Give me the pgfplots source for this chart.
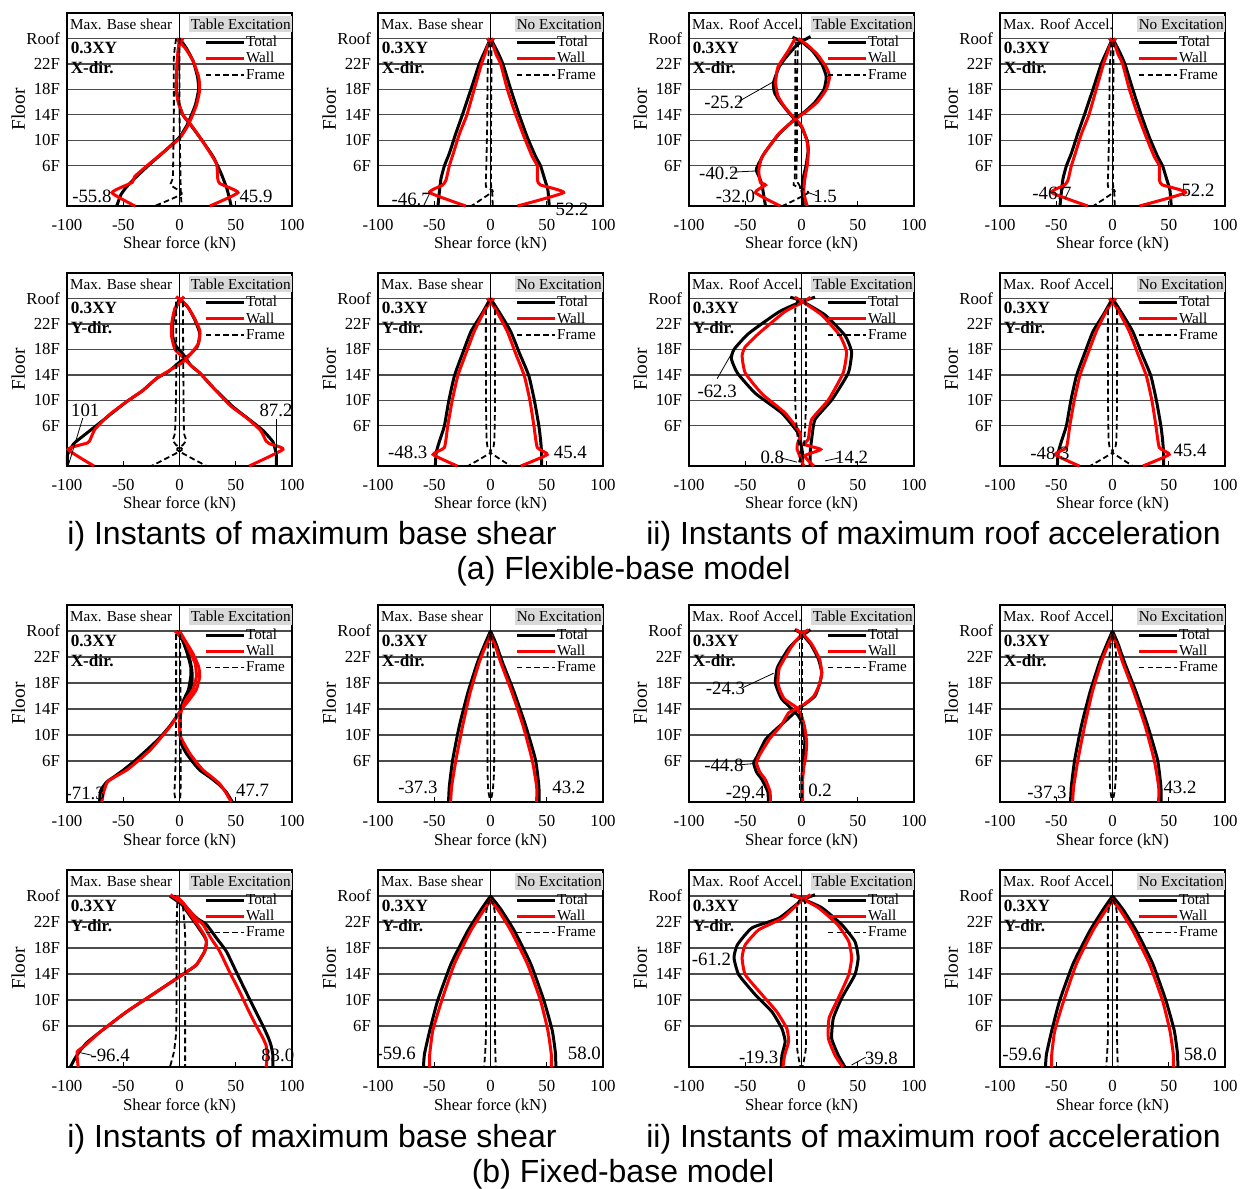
\documentclass[border=0pt]{standalone}
\usepackage{fontspec}
\setmainfont{Liberation Serif}
\newfontfamily\capfont{Liberation Sans}
\usepackage{pgfplots}
\pgfplotsset{compat=1.18}
\newcommand{\tfont}{\fontsize{8.4}{9}\selectfont}
\newcommand{\yfont}{\fontsize{9.7}{10}\selectfont}
\newcommand{\hfont}{\fontsize{7.6}{8}\selectfont}
\newcommand{\nfont}{\fontsize{9.4}{10}\selectfont}
\newcommand{\bfnt}{\fontsize{8.6}{9}\selectfont\bfseries}
\tikzset{
 tot/.style={black, line width=1.5pt, smooth, tension=0.3},
 wal/.style={red, line width=1.5pt, smooth, tension=0.3},
 frm/.style={black, line width=0.9pt, dash pattern=on 2.8pt off 1.6pt, smooth, tension=0.3},
}
\pgfplotsset{panel/.style={
 scale only axis, width=112.5pt, height=#1,
 xmin=-100,xmax=100,ymin=-0.3,ymax=30, clip=false,
 xtick={-100,-50,0,50,100}, xticklabels={-100,-50,0,50,100},
 ytick={6,10,14,18,22,26}, yticklabels={6F,10F,14F,18F,22F,Roof},
 ymajorgrids, major grid style={black!70,line width=0.6pt},
 xtick pos=bottom, ytick pos=left, tick align=inside,
 major tick length=2.5pt, ytick style={draw=none}, xtick style={black,line width=0.5pt},
 axis line style={line width=0.8pt},
 tick label style={font=\tfont},
 xticklabel style={yshift=-3pt},
 xlabel={Shear force (kN)}, ylabel={Floor},
 xlabel style={at={(axis description cs:0.5,-0.2)},anchor=center,font=\tfont},
 ylabel style={at={(axis description cs:-0.217,0.5)},anchor=center,font=\yfont},
 legend style={draw=none, fill=none, at={(axis description cs:0.61,0.888)}, anchor=north west,
   inner sep=0pt, outer sep=0pt, font=\hfont, row sep=0pt,
   nodes={inner sep=0.4pt, text height=5.7pt, text depth=1.6pt},
   /tikz/every even column/.append style={column sep=0pt}},
 legend cell align=left,
 legend image code/.code={\draw[##1] (0pt,0pt) -- (19pt,0pt);},
}}
\newcommand{\decor}[4]{%
 \draw[line width=0.9pt] (axis cs:0,-0.3) -- (axis cs:0,30);
 \fill[black!15] (axis description cs:#3,0.90) rectangle (axis description cs:1,0.984);
 \node[anchor=west,font=\hfont,inner sep=0pt] at (axis description cs:0.012,0.942) {#1};
 \node[anchor=east,font=\hfont,inner sep=0.5pt] at (axis description cs:1,0.942) {#2};
 \node[anchor=west,font=\bfnt,inner sep=0pt] at (axis description cs:0.015,0.82) {0.3XY};
 \node[anchor=west,font=\bfnt,inner sep=0pt] at (axis description cs:0.015,0.715) {#4-dir.};
 \addlegendimage{tot}\addlegendentry{Total}
 \addlegendimage{wal}\addlegendentry{Wall}
 \addlegendimage{frm}\addlegendentry{Frame}
}
\newcommand{\T}[1]{\addplot[tot,forget plot] coordinates {#1};}
\newcommand{\W}[1]{\addplot[wal,forget plot] coordinates {#1};}
\newcommand{\F}[1]{\addplot[frm,forget plot] coordinates {#1};}
\newcommand{\lab}[3]{\node[font=\nfont,inner sep=0pt] at (axis cs:#1,#2) {#3};}
\newcommand{\lead}[4]{\draw[line width=0.4pt] (axis cs:#1,#2) -- (axis cs:#3,#4);}

% flexible base, X, no excitation (same in both columns)
\newcommand{\curvesAtwo}{%
 \T{(0,26) (6,24) (11,22) (18,18) (25.5,14) (32.7,10.5) (40,7.5) (44.5,6) (48,4) (51,2.2) (52.2,-0.3)}
 \T{(0,26) (-5,24) (-10,22) (-17.4,18) (-25,14) (-31,11) (-36.5,8) (-41,6) (-44,4) (-45.4,2) (-46.7,-0.3)}
 \W{(-3,26) (2,25) (5,23.5) (9,22) (15,18) (22.5,14) (30,10.5) (37,7.5) (41.6,6) (41.6,3.8) (44.5,3) (65,1.8) (24,-0.3)}
 \W{(3,26) (-2,25) (-5,23.5) (-8,22) (-14.5,18) (-21,14) (-27.7,11) (-33,8) (-36.6,6) (-39.5,3.8) (-42.5,3) (-54,1.8) (-22,-0.3)}
 \F{(-1,25.5) (-2.5,21) (-3,12) (-4,4) (-4,2.7) (2,2) (-17,-0.3)}
 \F{(1,25.5) (0.5,12) (0.5,3) (1.5,2) (2,-0.3)}
}
% flexible base, Y, no excitation
\newcommand{\curvesBtwo}{%
 \T{(0,26) (-8,23.5) (-17.4,20.8) (-25,17.3) (-32,13.9) (-37,10) (-41,6) (-45,3.8) (-48.3,1.8) (-49,-0.3)}
 \T{(0,26) (9,23.5) (18,20.8) (26,17.3) (34,13.9) (39,10) (43,6) (44.5,3.8) (45.4,1.8) (45.4,-0.3)}
 \W{(3,26) (-2,25) (-7,23.5) (-14.5,20.8) (-22,17.3) (-29,13.9) (-34,10) (-38,6) (-41,2.6) (-51,1.5) (-29.5,-0.3)}
 \W{(-3,26) (2,25) (7,23.5) (15,20.8) (22.5,17.3) (30,13.9) (35,10) (38.6,6) (41.6,2.6) (50.4,1.5) (27,-0.3)}
 \F{(-1,25.5) (-4,24) (-4,10) (-3.5,4) (-2.5,2.6) (0,1.8) (-20,-0.3)}
 \F{(1,25.5) (4,24) (4,10) (3.5,4) (2.5,2.6) (0,1.8) (18,-0.3)}
}
% fixed base, X, no excitation
\newcommand{\curvesCtwo}{%
 \T{(0,26) (-5,24) (-11.5,21.2) (-20,16.6) (-27.7,11.4) (-33.6,6.2) (-36.6,2.1) (-37.3,-0.3)}
 \T{(0,26) (5,24) (10.6,21.2) (21,16.6) (31.3,11.4) (40,6.2) (43,2.1) (43.2,-0.3)}
 \W{(1,25.5) (-4,23.8) (-10,21.2) (-18,16.6) (-24.8,11.4) (-30.7,6.2) (-34.5,2.1) (-35.5,-0.3)}
 \W{(-1,25.5) (4,23.8) (9,21.2) (19,16.6) (29,11.4) (37,6.2) (41,2.1) (41,-0.3)}
 \F{(0,25.5) (-2.7,22) (-2.7,5) (-2,1.5) (0,-0.3)}
 \F{(0,25.5) (3.2,22) (3.2,5) (2,1.5) (0,-0.3)}
}
% fixed base, Y, no excitation
\newcommand{\curvesDtwo}{%
 \T{(0,26) (-8,24) (-20,20.7) (-35,15.6) (-47,9.9) (-54,5.3) (-58.7,1.7) (-59.6,-0.3)}
 \T{(0,26) (9,24) (21,20.7) (35.7,15.6) (47.5,9.9) (54.9,5.3) (57.8,1.7) (58,-0.3)}
 \W{(1,25.5) (-6,23.8) (-17.4,20.7) (-32,15.6) (-43.4,9.9) (-51.3,5.3) (-54,1.7) (-54,-0.3)}
 \W{(-1,25.5) (7,23.8) (18,20.7) (32.7,15.6) (44.5,9.9) (51,5.3) (54,1.7) (54,-0.3)}
 \F{(0,25.5) (-4,23) (-4,5) (-5.6,-0.3)}
 \F{(0,25.5) (4,23) (4,5) (4.7,-0.3)}
}

\begin{document}
\begin{tikzpicture}
% ---------------- Row A ----------------
\begin{axis}[panel=96.5pt, at={(33.5pt,491pt)}, anchor=south west]
\decor{Max. Base shear}{Table Excitation}{0.54}{X}
\T{(0,26) (6,24.5) (12,22.5) (16,20) (17,18) (14,15.5) (7,12.5) (0,10.5) (-12,8.5) (-28,6) (-40,4) (-47,2.7) (-52,1.5) (-55.8,-0.3)}
\T{(0,26) (-1.5,23) (-2.5,20) (-2.7,18) (-1,16) (3,14) (10,12.4) (20,10) (30,7.4) (37,4.8) (42,2.5) (44.5,0.8) (45.9,-0.3)}
\W{(-3,26) (5,24.5) (12,22.5) (17,20) (18,18) (15,15.5) (8,12.5) (0,10.3) (-12,8.5) (-29,6) (-40,4.3) (-42,3.4) (-60,1.8) (-39.5,-0.3)}
\W{(3,26) (-1,24.5) (-2.5,21) (-3,18) (-1,16) (3,14) (10,12.5) (20,10) (32.7,6.4) (34,4) (36,3.2) (52,1.8) (27,-0.3)}
\F{(-3,26) (-5,23) (-5,15) (-5.5,8) (-6,4) (-8,3) (2,1.6) (-22,-0.3)}
\F{(0,26) (0,15) (0.5,8) (1,3) (1,2) (2,-0.3)}
\lab{-77.9}{1.2}{-55.8}
\lab{68}{1.2}{45.9}
\end{axis}
\begin{axis}[panel=96.5pt, at={(189pt,491pt)}, anchor=south west]
\decor{Max. Base shear}{No Excitation}{0.61}{X}
\curvesAtwo
\lab{-70.5}{0.75}{-46.7}
\lab{72.6}{-0.8}{52.2}
\end{axis}
\begin{axis}[panel=96.5pt, at={(344.5pt,491pt)}, anchor=south west]
\decor{Max. Roof Accel.}{Table Excitation}{0.54}{X}
\T{(8,26.3) (0,25.5) (-5.6,24.7) (-14,23) (-20,21.5) (-25,19) (-24,17.5) (-20,16.3) (-12,14.5) (-5.6,13.2) (0,12.1) (5,10) (6,8.5) (4,6) (1.5,4) (1.5,1.8) (1.5,-0.3)}
\T{(-8,26.2) (0,25.5) (10,24) (18,22) (22,20) (20,18) (12,16) (3,14.5) (-5,13.5) (-20,11) (-33,8) (-39,6) (-40.2,5.3) (-37,4) (-35,3) (-34,1.8) (-32,-0.3)}
\W{(-5.6,26) (-12,24) (-21,21.5) (-23,19) (-21,17) (-16,15.5) (-8,13.8) (0,12.3) (4.7,10) (6,8) (5,6) (3,4) (2,1.8) (5,-0.3)}
\W{(-3,26) (5,25) (14,23.5) (22,21.5) (25,20) (22,18) (14,16) (4,14.5) (-4,13.5) (-20,11.1) (-35,7.4) (-38,5.3) (-36.6,3.4) (-32,3) (-41,1.8) (-19,-0.3)}
\F{(-5,25.5) (-5.6,22) (-5.6,10) (-6,4) (-7,3) (6,1.8) (-17,-0.3)}
\F{(-3,25.5) (-4,20) (-4,10) (-4.5,4) (-2,3) (0,2) (2,-0.3)}
\lab{-69}{15.9}{-25.2}
\lead{-56}{16.1}{-25}{19.2}
\lab{-73.5}{4.8}{-40.2}
\lead{-63}{5}{-40}{5.2}
\lab{-58.7}{1.2}{-32.0}
\lab{21}{1.2}{1.5}
\lead{14}{1.3}{6}{1.8}
\end{axis}
\begin{axis}[panel=96.5pt, at={(500pt,491pt)}, anchor=south west]
\decor{Max. Roof Accel.}{No Excitation}{0.61}{X}
\curvesAtwo
\lab{-53.8}{1.7}{-46.7}
\lab{76}{2.2}{52.2}
\end{axis}
% ---------------- Row B ----------------
\begin{axis}[panel=96.5pt, at={(33.5pt,361pt)}, anchor=south west]
\decor{Max. Base shear}{Table Excitation}{0.54}{Y}
\T{(0,26) (8,24.5) (14,22.5) (18,20.5) (16,18.5) (8,17) (0,16) (-10,14.5) (-20,13.5) (-33,11.5) (-47,9.8) (-60,8) (-73.5,6.1) (-85,4.5) (-94,3.2) (-99.5,1.5) (-99.5,-0.3)}
\T{(0,26) (-4,24) (-6,22) (-6,20) (-3,18.5) (3,17.3) (10,15.5) (18,14.3) (30,12) (47.5,9) (62,7) (74,5.3) (83,3.5) (86,1.5) (86,-0.3)}
\W{(-3,26.3) (6,25) (13,23) (18,21) (17,19) (10,17.3) (3,16) (-8,14.8) (-20,13.5) (-33,11.5) (-47,9.8) (-62,7.8) (-75,5.5) (-80,3.6) (-82,3.3) (-99,2.3) (-76,-0.3)}
\W{(4,26.3) (-4,24.5) (-7,22) (-7,20) (-4,18) (3,16.8) (10,15.5) (18,14.3) (30,12) (45,9.2) (60,7.2) (72,5.3) (77,3.6) (80,3.2) (92,2.3) (62,-0.3)}
\F{(-3,25.5) (-3,12) (-4,5) (-6,3.8) (-3,3) (2,2.2) (-25,-0.3)}
\F{(3,25.5) (3.5,12) (4,5) (6,3.8) (3,3) (-2,2.2) (24,-0.3)}
\lab{-83.8}{8.4}{101}
\lead{-86}{7.2}{-98.5}{0}
\lab{85.8}{8.4}{87.2}
\lead{86}{7}{86}{-0.3}
\end{axis}
\begin{axis}[panel=96.5pt, at={(189pt,361pt)}, anchor=south west]
\decor{Max. Base shear}{No Excitation}{0.61}{Y}
\curvesBtwo
\lab{-73.5}{1.8}{-48.3}
\lab{71}{1.8}{45.4}
\end{axis}
\begin{axis}[panel=96.5pt, at={(344.5pt,361pt)}, anchor=south west]
\decor{Max. Roof Accel.}{Table Excitation}{0.54}{Y}
\T{(12,26.2) (0,25.5) (-20,23.9) (-47,20.5) (-60,18) (-62.3,16.5) (-57,14.3) (-41,11.1) (-17.4,8) (-2.7,4.8) (0,2.7) (1,1.5) (0.8,-0.3)}
\T{(-10,26.2) (0,25.6) (21,23.4) (38.6,20.2) (44.5,17.6) (41.6,14.3) (27,10.1) (12,7) (9,3.9) (7.7,1.8) (7.7,-0.3)}
\W{(8,26.2) (0,25.3) (-15,23.9) (-38,20.5) (-50,18.4) (-52.8,17) (-50,14.3) (-35,11) (-14.5,8) (-1,4.8) (-3,3.5) (-4,2.4) (2,-0.3)}
\W{(-6,26.2) (0,25.6) (18,23.4) (34,20.2) (40,17.6) (37,14.3) (24,10.1) (9,7) (6,3.9) (2,3.1) (17,2.3) (3,1.3) (11,-0.3)}
\F{(-3,25.8) (-5.6,24) (-5.6,10) (-4,5) (-2,3) (0,2) (-3,-0.3)}
\F{(3,25.8) (4,24) (4,10) (3,5) (2,3) (-2,1.5) (0.8,-0.3)}
\lab{-75}{11.4}{-62.3}
\lead{-75}{13.4}{-61.7}{17.5}
\lab{-26}{1.0}{0.8}
\lead{-19}{1}{-4}{0.3}
\lab{44.5}{1.0}{14.2}
\lead{34}{1}{21}{0.5}
\end{axis}
\begin{axis}[panel=96.5pt, at={(500pt,361pt)}, anchor=south west]
\decor{Max. Roof Accel.}{No Excitation}{0.61}{Y}
\curvesBtwo
\lab{-55.6}{1.7}{-48.3}
\lab{68.9}{2.2}{45.4}
\end{axis}
% ---------------- Row C ----------------
\begin{axis}[panel=98.5pt, at={(33.5pt,193pt)}, anchor=south west]
\decor{Max. Base shear}{Table Excitation}{0.54}{X}
\T{(-3,26) (3,24.5) (8,22.5) (11,20) (11,18) (8,16) (2,14) (-8.5,11.4) (-18,9.5) (-29,7.7) (-40,6) (-50,4.6) (-58,3.6) (-64.6,2.8) (-69,1.8) (-70.5,1.2) (-71,-0.3)}
\T{(0,26) (3,24.5) (7,22.5) (10,20.5) (10,19) (8,17) (4,15.5) (1,14) (0.5,12) (0.5,10) (2,8.5) (6,7.2) (12,5.8) (18,4.6) (27,3.5) (35.7,2.3) (41.6,1.2) (47,-0.3)}
\W{(-4,26) (5,24.5) (12,22.5) (17,20.5) (18,19) (15,17) (9,15.5) (2,14) (-7,11.6) (-16,9.7) (-26,7.7) (-37,6) (-47,4.6) (-56,3.7) (-64,2.8) (-67.5,1.2) (-69,-0.3)}
\W{(0,26) (5,24.5) (10,22.5) (14,21) (15,19) (12,17) (6,15.5) (2,14) (0,12) (0.5,10) (3,9) (9,7.2) (15,5.8) (21,4.6) (29,3.5) (35.7,2.5) (41,1.2) (46,-0.3)}
\F{(-3,25.5) (-3,15) (-3.5,6) (-4,3) (-4.5,1) (-3,-0.3)}
\F{(0.5,25.5) (1,15) (1,6) (1,2) (0.5,-0.3)}
\lab{-83.8}{1.0}{-71.3}
\lab{65}{1.5}{47.7}
\end{axis}
\begin{axis}[panel=98.5pt, at={(189pt,193pt)}, anchor=south west]
\decor{Max. Base shear}{No Excitation}{0.61}{X}
\curvesCtwo
\lab{-64.6}{1.9}{-37.3}
\lab{69.6}{1.9}{43.2}
\end{axis}
\begin{axis}[panel=98.5pt, at={(344.5pt,193pt)}, anchor=south west]
\decor{Max. Roof Accel.}{Table Excitation}{0.54}{X}
\T{(8,26.2) (3,25.6) (-5,24.5) (-11.5,23.3) (-18,21.5) (-21.8,20.2) (-23.3,18.1) (-21,16.8) (-17.4,15.5) (-8.5,14) (-3,13) (0,12) (2,10.5) (3,9) (2,7) (1,5) (0.3,3) (0.2,-0.3)}
\T{(-6,26.2) (0,25.6) (8,24) (15,21.7) (18,19.6) (16,17.8) (12,16) (5,15) (-3,14) (-12,12.5) (-22,11) (-32,9.3) (-39.5,6.7) (-42.5,5.7) (-40,4.3) (-35,3.1) (-30,1.3) (-29.4,-0.3)}
\W{(6,26.2) (1,25.6) (-5,24.5) (-10,23.3) (-16,21.5) (-20,20.2) (-21,18.1) (-19,16.8) (-15,15.5) (-5,14.3) (0,13) (3,11) (4.5,9) (4,7) (2,5) (1,3) (1,-0.3)}
\W{(-5,26.2) (1,25.6) (9,24) (16,21.7) (18,19.6) (16,17.8) (11,16) (3,14.8) (-5,14) (-11.5,13.4) (-18,11.5) (-28,9.5) (-37,7) (-40,5.7) (-37,4.3) (-32,3.1) (-28,1.3) (-27.7,-0.3)}
\F{(-1.8,25.5) (-1.8,12) (-1.8,-0.3)}
\F{(0.6,25.5) (0.6,12) (0.6,-0.3)}
\lab{-67.6}{17.1}{-24.3}
\lead{-52}{17.3}{-24.8}{19.5}
\lab{-69}{5.3}{-44.8}
\lead{-56}{5.4}{-43}{5.6}
\lab{-49.9}{1.25}{-29.4}
\lab{16.5}{1.5}{0.2}
\end{axis}
\begin{axis}[panel=98.5pt, at={(500pt,193pt)}, anchor=south west]
\decor{Max. Roof Accel.}{No Excitation}{0.61}{X}
\curvesCtwo
\lab{-58.2}{1.25}{-37.3}
\lab{60}{1.9}{43.2}
\end{axis}
% ---------------- Row D ----------------
\begin{axis}[panel=98.5pt, at={(33.5pt,60.5pt)}, anchor=south west]
\decor{Max. Base shear}{Table Excitation}{0.54}{Y}
\T{(-8.5,26) (2,24.7) (8,23.3) (15,21.6) (22,19.8) (24,19) (22.4,17.5) (15,15.4) (6,14.3) (0,13.6) (-20,11.3) (-47,8.2) (-70.5,5.1) (-82,3.5) (-88,2.3) (-93,1) (-97,-0.3)}
\T{(-5,26) (2,25) (9,23.7) (16,22.5) (24,21.6) (33,19.5) (41.6,17.5) (50,14.5) (59,11.3) (67,8.5) (74,6.1) (79,4.2) (81.4,3) (83,1.5) (83,-0.3)}
\W{(-8,26.2) (3,24.8) (9,23.3) (16,21.6) (22,20) (24,19) (22.4,17.5) (15,15.4) (5,14.2) (-1,13.5) (-20,11.3) (-47,8.2) (-70.5,5.1) (-84,3) (-91,2) (-90,-0.3)}
\W{(-3,26) (3,25) (9,23.7) (15,22.5) (21,21.6) (28,19.5) (35.7,17.5) (44,14.5) (53.4,11.3) (61,8.5) (68,6.1) (74,4.2) (77,3) (78,1.5) (77,-0.3)}
\F{(-2,25) (-2.7,20) (-2.7,10) (-3,5) (-5,2) (-8.5,-0.3)}
\F{(3,24.5) (5,20) (5,10) (5,5) (5,2) (5,-0.3)}
\lab{-61.7}{1.5}{-96.4}
\lead{-78}{1.5}{-88}{1.9}
\lab{87.3}{1.5}{83.0}
\end{axis}
\begin{axis}[panel=98.5pt, at={(189pt,60.5pt)}, anchor=south west]
\decor{Max. Base shear}{No Excitation}{0.61}{Y}
\curvesDtwo
\lab{-83.8}{1.76}{-59.6}
\lab{83.5}{1.76}{58.0}
\end{axis}
\begin{axis}[panel=98.5pt, at={(344.5pt,60.5pt)}, anchor=south west]
\decor{Max. Roof Accel.}{Table Excitation}{0.54}{Y}
\T{(12,26.2) (0,25.3) (-20,22.6) (-44,21.1) (-57,18.5) (-60,16.5) (-55.8,13.9) (-41,10.8) (-26.3,8.2) (-17.4,5.6) (-14.5,3.6) (-17.4,1.5) (-18,-0.3)}
\T{(-10,26.2) (0,25.6) (18,24.2) (35.7,21.6) (47.5,19) (50.4,16.5) (47.5,13.9) (35.7,10.3) (28.3,7.2) (26.8,4.1) (32.7,1.5) (38.6,-0.3)}
\W{(8,26.2) (0,25.3) (-17,22.6) (-38,20.8) (-50,18.5) (-52.8,16.5) (-50,13.9) (-35,10.8) (-22,8.2) (-13,5.6) (-11.5,3.6) (-15,1.5) (-16.5,-0.3)}
\W{(-8,26.2) (0,25.6) (15,24.2) (32,21.6) (42,19) (44.5,16.5) (42,13.9) (32.7,10.3) (24.5,7.2) (23.9,4.1) (29.8,1.5) (36.6,-0.3)}
\F{(-1,25.5) (-4,24) (-4,10) (-4,3) (-3,1.5) (-1,-0.3)}
\F{(1,25.5) (4,24) (4,10) (4,3) (3,1.5) (1,-0.3)}
\lab{-80}{16.2}{-61.2}
\lab{-38}{1.1}{-19.3}
\lab{71}{1.1}{39.8}
\lead{57}{1.2}{44.5}{0}
\end{axis}
\begin{axis}[panel=98.5pt, at={(500pt,60.5pt)}, anchor=south west]
\decor{Max. Roof Accel.}{No Excitation}{0.61}{Y}
\curvesDtwo
\lab{-80.4}{1.6}{-59.6}
\lab{78}{1.6}{58.0}
\end{axis}
% ---------------- Captions ----------------
\begin{scope}[every node/.style={font=\capfont\fontsize{16}{18}\selectfont, inner sep=0pt, anchor=base}]
\node at (156pt,321.5pt) {i) Instants of maximum base shear};
\node at (466.75pt,321.5pt) {ii) Instants of maximum roof acceleration};
\node at (311.75pt,304pt) {(a) Flexible-base model};
\node at (156pt,20.5pt) {i) Instants of maximum base shear};
\node at (466.75pt,20.5pt) {ii) Instants of maximum roof acceleration};
\node at (311.5pt,3pt) {(b) Fixed-base model};
\end{scope}
\pgfresetboundingbox
\path (0,0) rectangle (623pt,594pt);
\end{tikzpicture}
\end{document}
